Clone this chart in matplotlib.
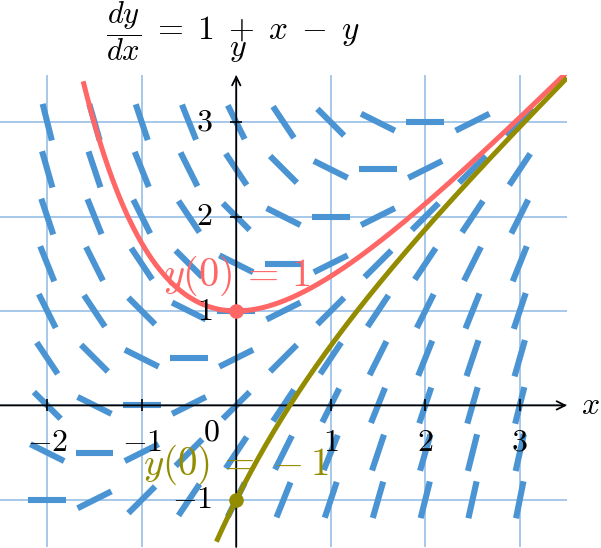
import numpy as np
import matplotlib
matplotlib.use("Agg")
import matplotlib.pyplot as plt
from matplotlib.collections import LineCollection

plt.rcParams['mathtext.fontset'] = 'cm'
plt.rcParams['font.family'] = ['DejaVu Serif']

# slope field grid
field_x = [-2, -1.5, -1, -0.5, 0, 0.5, 1, 1.5, 2, 2.5, 3]
field_y = [-1, -0.5, 0, 0.5, 1, 1.5, 2, 2.5, 3]
x_ticks = [-2, -1, 1, 2, 3]
x_tick_labels = [r'$-2$', r'$-1$', r'$1$', r'$2$', r'$3$']
y_ticks = [-1, 1, 2, 3]
y_tick_labels = [r'$-1$', r'$1$', r'$2$', r'$3$']
grid_x = [-2, -1, 0, 1, 2, 3]
grid_y = [-1, 0, 1, 2, 3]
red_domain = [-1.62, 3.5]
olive_domain = [-0.21, 3.5]
initial_values = [1, -1]

BLUE = '#4a94d3'
GRID = '#a6c8ea'
RED = '#ff6666'
OLIVE = '#948c00'

fig = plt.figure(figsize=(6.01, 5.48), dpi=100)
ax = fig.add_axes([0, 1/548, 567/601, 472/548])
ax.set_xlim(-2.5, 3.5)
ax.set_ylim(-1.5, 3.5)
ax.set_axis_off()

for gx in grid_x:
    ax.axvline(gx, color=GRID, lw=1.4, zorder=0)
for gy in grid_y:
    ax.axhline(gy, color=GRID, lw=1.4, zorder=0)

# axes with arrows
ax.annotate('', xy=(3.5, 0), xytext=(-2.5, 0),
            arrowprops=dict(arrowstyle='->,head_length=0.6,head_width=0.3', color='black', lw=1.3,
                            shrinkA=0, shrinkB=0), annotation_clip=False, zorder=3)
ax.annotate('', xy=(0, 3.5), xytext=(0, -1.5),
            arrowprops=dict(arrowstyle='->,head_length=0.6,head_width=0.3', color='black', lw=1.3,
                            shrinkA=0, shrinkB=0), annotation_clip=False, zorder=3)

# tick marks
ax.plot(x_ticks, [0]*len(x_ticks), ls='none', marker='|', ms=8, mew=1.2, color='black', zorder=3)
ax.plot([0]*len(y_ticks), y_ticks, ls='none', marker='_', ms=8, mew=1.2, color='black', zorder=3)

# slope field
segs = []
L = 0.4
for xv in field_x:
    for yv in field_y:
        m = 1 + xv - yv
        d = np.array([1.0, m]) / np.hypot(1.0, m)
        segs.append([(xv - d[0]*L/2, yv - d[1]*L/2), (xv + d[0]*L/2, yv + d[1]*L/2)])
lc = LineCollection(segs, colors=BLUE, linewidths=4.4, capstyle='butt', zorder=2)
ax.add_collection(lc)

# solution curves y = x + C e^{-x}
xr = np.linspace(red_domain[0], red_domain[1], 400)
ax.plot(xr, xr + initial_values[0]*np.exp(-xr), color=RED, lw=3.6, zorder=4, solid_capstyle='butt')
xo = np.linspace(olive_domain[0], olive_domain[1], 400)
ax.plot(xo, xo + initial_values[1]*np.exp(-xo), color=OLIVE, lw=3.6, zorder=4, solid_capstyle='butt')
ax.plot([0], [initial_values[0]], 'o', color=RED, ms=9.5, zorder=5)
ax.plot([0], [initial_values[1]], 'o', color=OLIVE, ms=9.5, zorder=5)

ax.text(0, 1.27, r'$y(0)\,=\,1$', color=RED, fontsize=29, ha='center', va='baseline', zorder=6)
ax.text(0, -0.74, r'$y(0)\,=\,-1$', color=OLIVE, fontsize=28, ha='center', va='baseline', zorder=6)

# tick labels
for xv, lab in zip(x_ticks, x_tick_labels):
    ax.annotate(lab, xy=(xv, 0), xytext=(0, -15.5), textcoords='offset points',
                ha='center', va='top', fontsize=23, zorder=6)
for yv, lab in zip(y_ticks, y_tick_labels):
    ax.annotate(lab, xy=(0, yv), xytext=(-17, 0), textcoords='offset points',
                ha='right', va='center', fontsize=23, zorder=6)
ax.text(-0.265, -0.286, r'$0$', ha='center', va='center', fontsize=23, zorder=6)

ax.text(3.75, 0, r'$x$', ha='center', va='center', fontsize=23, clip_on=False)
ax.text(0.02, 3.78, r'$y$', ha='center', va='center', fontsize=23, clip_on=False)

# title: fraction and right-hand side
fig.text(124/601, 1 - 31/548, r'$\dfrac{dy}{dx}$', ha='center', va='center', fontsize=22)
fig.text(152/601, 1 - 31/548, r'$=\;1\;+\;x\;-\;y$', ha='left', va='center', fontsize=24)

fig.savefig('out.png', dpi=100)
